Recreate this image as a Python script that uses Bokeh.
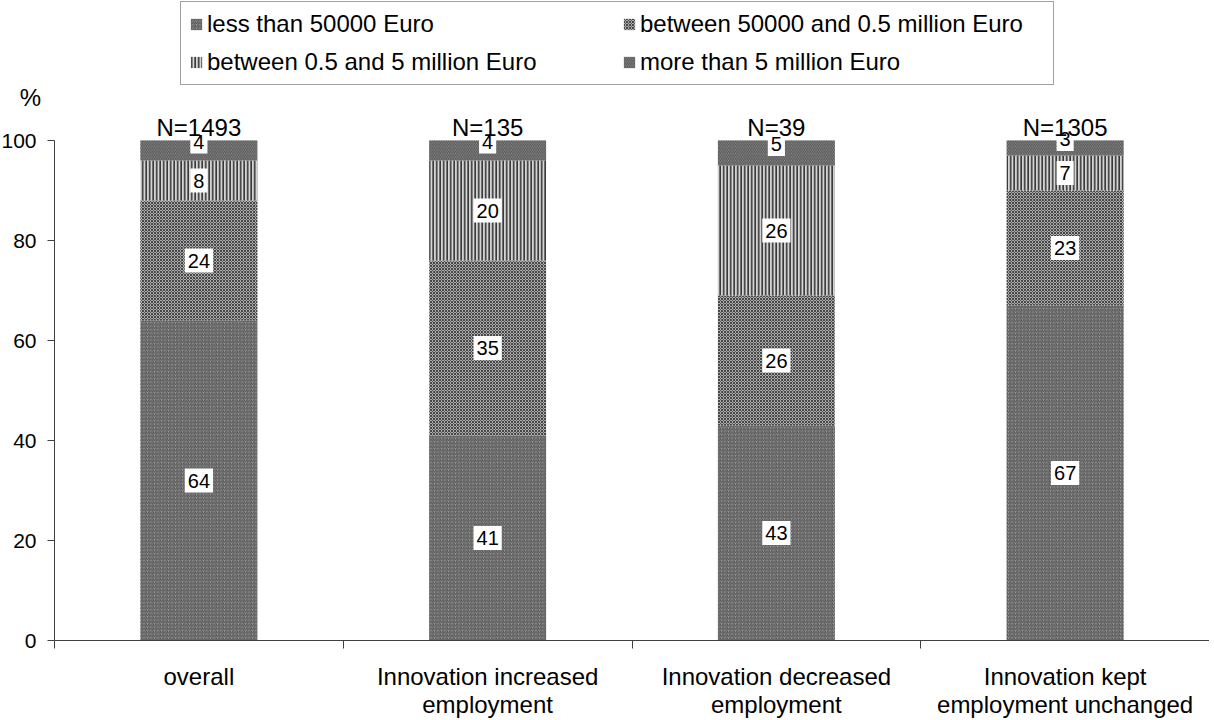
import numpy as np
from bokeh.plotting import figure
from bokeh.models import (ColumnDataSource, Range1d, FixedTicker, LinearAxis, Legend,
                          LegendItem, Label)
from bokeh.core.properties import value
from bokeh.embed import file_html
from bokeh.resources import INLINE

# ---------------- data ----------------
categories = ["overall",
              "Innovation increased\nemployment",
              "Innovation decreased\nemployment",
              "Innovation kept\nemployment unchanged"]
sample_sizes = [1493, 135, 39, 1305]
series_names = ["less than 50000 Euro",
                "between 50000 and 0.5 million Euro",
                "between 0.5 and 5 million Euro",
                "more than 5 million Euro"]
less_50k = [64, 41, 43, 67]
between_50k_05m = [24, 35, 26, 23]
between_05m_5m = [8, 20, 26, 7]
more_5m = [4, 4, 5, 3]
y_ticks = [0, 20, 40, 60, 80, 100]

FONT = "Liberation Sans"
AXIS_COLOR = "#404040"

series = [less_50k, between_50k_05m, between_05m_5m, more_5m]
styles = [
    dict(fill_color="#9c9c9c", hatch_pattern="/", hatch_color="#4c4c4c", hatch_scale=3.5, hatch_weight=1.0),
    dict(fill_color="#acacac", hatch_pattern="x", hatch_color="#3a3a3a", hatch_scale=3.0, hatch_weight=0.9),
    dict(fill_color="#d4d4d4", hatch_pattern="|", hatch_color="#383838", hatch_scale=3.5, hatch_weight=1.7),
    dict(fill_color="#9c9c9c", hatch_pattern="\\", hatch_color="#4c4c4c", hatch_scale=3.5, hatch_weight=1.0),
]

n_cat = len(categories)
xc = np.arange(n_cat) + 0.5

FRAME_H = 718
FRAME_W = 1209
LEFT_PX = 54            # room for y tick labels inside the frame
BOTTOM_PX = 78          # room for category labels inside the frame
unit_px = (FRAME_W - LEFT_PX) / n_cat
x_start = -LEFT_PX / unit_px
px_per_pct = 5.0
y_start = -BOTTOM_PX / px_per_pct
y_end = y_start + FRAME_H / px_per_pct

p = figure(frame_width=FRAME_W, frame_height=FRAME_H,
           x_range=Range1d(x_start, n_cat), y_range=Range1d(y_start, y_end),
           output_backend="svg", toolbar_location=None, min_border=0,
           x_axis_type=None, y_axis_type=None)
p.outline_line_color = None
p.xgrid.visible = False
p.ygrid.visible = False

# ---------------- bars ----------------
bottom = np.zeros(n_cat)
renderers = []
for vals, st in zip(series, styles):
    v = np.array(vals, dtype=float)
    src = ColumnDataSource(dict(x=xc, bottom=bottom.copy(), top=bottom + v))
    r = p.vbar(x="x", bottom="bottom", top="top", width=0.405, source=src,
               line_color=None, **st)
    renderers.append(r)
    bottom = bottom + v

# ---------------- value labels ----------------
bottom = np.zeros(n_cat)
for i, vals in enumerate(series):
    v = np.array(vals, dtype=float)
    mid = bottom + v / 2
    p.text(x=xc, y=mid, text=[str(int(t)) for t in vals],
           text_align="center", text_baseline="middle",
           text_font=value(FONT), text_font_size="20px", text_color="black",
           background_fill_color="white", background_fill_alpha=1.0,
           padding=dict(left=3, right=3, top=5, bottom=5),
           y_offset=(-9 if i == len(series) - 1 else 0))
    bottom = bottom + v

# N= labels above bars
p.text(x=xc, y=bottom, text=[f"N={n}" for n in sample_sizes],
       text_font=value(FONT), text_font_size="24px", text_align="center",
       text_baseline="alphabetic", y_offset=-13, text_color="black")

# ---------------- axes ----------------
yaxis = LinearAxis(ticker=FixedTicker(ticks=y_ticks, minor_ticks=[]), bounds=(0, 100),
                   fixed_location=0)
yaxis.major_tick_out = 7
yaxis.major_tick_in = 0
yaxis.minor_tick_out = 0
yaxis.minor_tick_in = 0
yaxis.major_label_standoff = 11
yaxis.major_label_text_font = FONT
yaxis.major_label_text_font_size = "21px"
yaxis.major_label_text_color = "black"
yaxis.axis_line_color = AXIS_COLOR
yaxis.major_tick_line_color = AXIS_COLOR
p.add_layout(yaxis, "left")

xaxis = LinearAxis(ticker=FixedTicker(ticks=list(xc), minor_ticks=list(range(n_cat + 1))),
                   bounds=(0, n_cat), fixed_location=0)
xaxis.major_label_overrides = {float(x): c for x, c in zip(xc, categories)}
xaxis.major_tick_line_color = None
xaxis.major_tick_out = 0
xaxis.major_tick_in = 0
xaxis.minor_tick_out = 8
xaxis.minor_tick_in = 0
xaxis.minor_tick_line_color = AXIS_COLOR
xaxis.axis_line_color = AXIS_COLOR
xaxis.major_label_standoff = 14
xaxis.major_label_text_font = FONT
xaxis.major_label_text_font_size = "24px"
xaxis.major_label_text_line_height = 1.05
xaxis.major_label_text_color = "black"
p.add_layout(xaxis, "below")

# "%" unit label
p.add_layout(Label(x=30, x_units="screen", y=108.6, y_units="data", text="%",
                   text_font=FONT, text_font_size="24px",
                   text_align="center", text_baseline="middle", text_color="black"))

# ---------------- legend ----------------
items = [LegendItem(label=name, renderers=[r]) for name, r in zip(series_names, renderers)]
legend = Legend(items=items, ncols=2, orientation="horizontal",
                location=(180, FRAME_H - 3 - 82))
legend.label_text_font = FONT
legend.label_text_font_size = "24px"
legend.label_text_color = "black"
legend.glyph_width = 14
legend.glyph_height = 14
legend.label_standoff = 4
legend.spacing = 10
legend.padding = 8
legend.margin = 0
legend.label_width = 405
legend.border_line_color = "#444444"
legend.border_line_width = 1
legend.background_fill_color = "white"
legend.background_fill_alpha = 1.0
p.add_layout(legend)

open("out.html", "w").write(file_html(p, INLINE))
